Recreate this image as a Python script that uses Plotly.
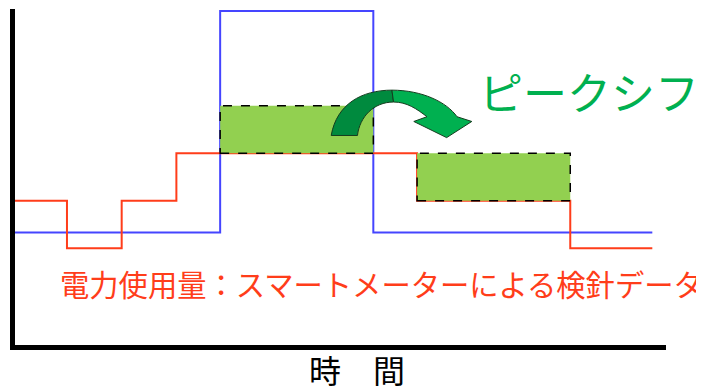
import plotly.graph_objects as go

# time axis (arbitrary units) and levels
red_x = [0, 1, 2, 3, 7.4, 10.2, 11.7]
red_y = [3, 2, 3, 4, 3, 2, 2]
blue_x = [0, 3.8, 6.6, 11.7]
blue_y = [2.33, 7, 2.33, 2.33]

# peak block before / after the shift: [x0, x1, y0, y1]
peak_before = [3.8, 6.6, 4, 5]
peak_after = [7.4, 10.2, 3, 4]

shift_label = "ピークシフト"
usage_label = "電力使用量：スマートメーターによる検針データ"
time_label = "時　間"

JP_FONT = "Noto Sans CJK JP"

fig = go.Figure()

fig.add_trace(go.Scatter(
    x=blue_x, y=blue_y, mode="lines", line_shape="hv",
    line=dict(color="#4545FF", width=2), hoverinfo="skip"
))
fig.add_trace(go.Scatter(
    x=red_x, y=red_y, mode="lines", line_shape="hv",
    line=dict(color="#FF3D1A", width=2), hoverinfo="skip"
))

# green blocks with dashed outline
for x0, x1, y0, y1 in (peak_before, peak_after):
    fig.add_shape(type="rect", xref="x", yref="y", x0=x0, x1=x1, y0=y0, y1=y1,
                  fillcolor="#92D050", line=dict(color="black", width=1.5, dash="dash"),
                  layer="above")

# curved arrow, darker left half + lighter right half
arrow_left = ("M 5.83,4.375 C 5.93,5.04 6.39,5.33 6.94,5.33 "
              "L 6.97,5.08 C 6.61,5.08 6.35,4.77 6.31,4.375 Z")
arrow_right = ("M 6.94,5.33 C 7.49,5.33 7.94,5.08 8.13,4.77 "
               "L 8.4,4.67 L 7.94,4.33 L 7.34,4.67 L 7.58,4.77 "
               "C 7.39,4.94 7.21,5.08 6.97,5.08 Z")
fig.add_shape(type="path", xref="x", yref="y", path=arrow_left,
              fillcolor="#008A3E", line=dict(color="#143C1E", width=1))
fig.add_shape(type="path", xref="x", yref="y", path=arrow_right,
              fillcolor="#00B050", line=dict(color="#143C1E", width=1))

fig.add_annotation(x=8.5, y=5.31, xref="x", yref="y", text=shift_label,
                   showarrow=False, xanchor="left", yanchor="middle",
                   font=dict(family=JP_FONT, size=44, color="#00B050"))
fig.add_annotation(x=0.83, y=1.27, xref="x", yref="y", text=usage_label,
                   showarrow=False, xanchor="left", yanchor="middle",
                   font=dict(family=JP_FONT, size=29.3, color="#FF3D1A"))
# below the axis -> paper coords (data-ref annotations off-range get hidden)
fig.add_annotation(x=6.31, y=-0.072, xref="x", yref="paper", text=time_label,
                   showarrow=False, xanchor="center", yanchor="middle",
                   font=dict(family=JP_FONT, size=32, color="black"))

fig.update_xaxes(range=[0.05, 11.95], showline=True, linecolor="black", linewidth=5,
                 showgrid=False, zeroline=False, showticklabels=False, ticks="")
fig.update_yaxes(range=[-0.04, 7.04], showline=True, linecolor="black", linewidth=5,
                 showgrid=False, zeroline=False, showticklabels=False, ticks="")

# page body adds an 8px offset, margins compensate for it
fig.update_layout(
    width=704, height=388,
    margin=dict(l=7, r=46, t=1, b=51),
    paper_bgcolor="white", plot_bgcolor="white",
    showlegend=False,
)

fig.write_html("out.html")
